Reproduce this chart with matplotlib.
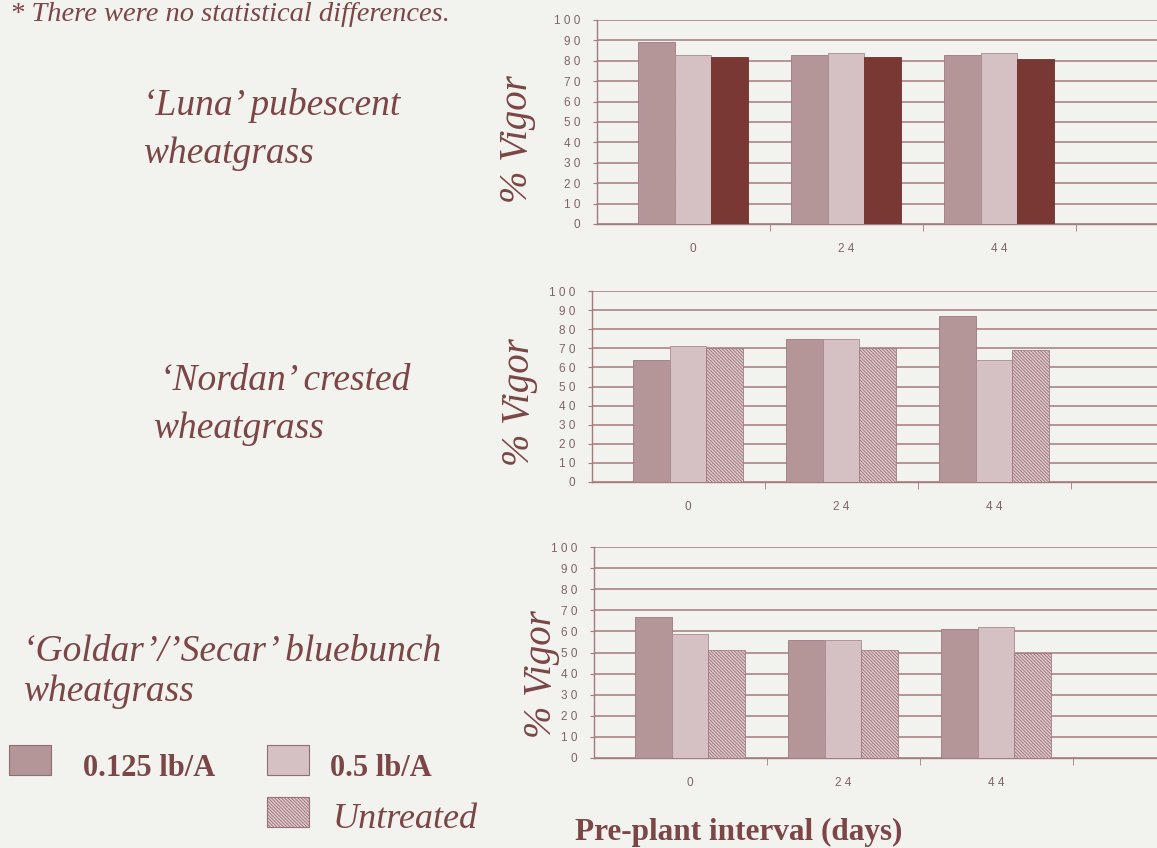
import matplotlib.pyplot as plt
from matplotlib.patches import Rectangle
import numpy as np

intervals = ["0", "24", "44"]
series = ["0.125 lb/A", "0.5 lb/A", "Untreated"]

luna = {"0.125 lb/A": [89, 83, 83], "0.5 lb/A": [83, 84, 84], "Untreated": [82, 82, 81]}
nordan = {"0.125 lb/A": [64, 75, 87], "0.5 lb/A": [71, 75, 64], "Untreated": [70, 70, 69]}
goldar = {"0.125 lb/A": [67, 56, 61], "0.5 lb/A": [59, 56, 62], "Untreated": [51, 51, 50]}

yticks = list(range(0, 101, 10))

W, H = 1157, 848
BG = "#f2f2ef"
TXT = "#7b4645"
GRID = "#a57b7c"
TICK = "#806465"
STEP = 153.0  # px per interval group

plt.rcParams["hatch.linewidth"] = 0.6

fig = plt.figure(figsize=(W / 100, H / 100), dpi=100, facecolor=BG)


def spaced(s):
    return " ".join(s)


def panel(left, y0, y100, c0, data, solid_untreated=False):
    ax = fig.add_axes([left / W, 1 - y0 / H, (W - left) / W, (y0 - y100) / H])
    ax.set_facecolor("none")
    x = np.arange(len(intervals))
    bw = 0.24
    styles = {
        "0.125 lb/A": dict(color="#b49698", edgecolor="#9d7a7d", lw=0.6),
        "0.5 lb/A": dict(color="#d5c1c3", edgecolor="#a98a8c", lw=0.6),
        "Untreated": dict(color="#dcc9cb", edgecolor="#9c7074", hatch="\\" * 10, lw=0.5),
    }
    if solid_untreated:
        styles["Untreated"] = dict(color="#7a3834", edgecolor="#6e302d", lw=0.6)
    for i, s in enumerate(series):
        ax.bar(x + (i - 1) * bw, data[s], bw, zorder=3, **styles[s])
    ax.set_ylim(0, 100)
    ax.set_xlim(-(c0 - left) / STEP, (W - c0) / STEP)
    ax.set_yticks(yticks)
    ax.set_yticklabels([spaced(str(v)) for v in yticks], fontsize=8.5,
                       family="Liberation Sans", color=TICK)
    ax.set_xticks(x)
    ax.set_xticklabels([spaced(v) for v in intervals], fontsize=8.5,
                       family="Liberation Sans", color=TICK)
    ax.tick_params(axis="x", length=0, pad=14)
    ax.set_xticks([0.5, 1.5, 2.5], minor=True)
    ax.tick_params(axis="x", which="minor", length=5, color=GRID, direction="out")
    ax.tick_params(axis="y", length=3, color=GRID, pad=9)
    ax.grid(axis="y", color=GRID, lw=1.1, zorder=0)
    for sp in ["top", "right"]:
        ax.spines[sp].set_visible(False)
    for sp in ["left", "bottom"]:
        ax.spines[sp].set_color(GRID)
        ax.spines[sp].set_linewidth(1.0)
    return ax


panel(597, 224, 20, 693, luna, solid_untreated=True)
panel(592, 482, 291, 688, nordan)
panel(594, 758, 547, 690, goldar)


def ftext(x, y, s, **kw):
    fig.text(x / W, 1 - y / H, s, color=TXT, family="Liberation Serif", **kw)


# rotated y labels
for xc, yc in [(518, 139), (520, 402), (542, 674)]:
    ftext(xc, yc, "% Vigor", fontsize=28, style="italic", rotation=90,
          ha="center", va="center")

ftext(10, 21, "* There were no statistical differences.", fontsize=20.5, style="italic",
      va="baseline")
ftext(143, 115, "‘Luna’ pubescent", fontsize=27, style="italic", va="baseline")
ftext(143, 163, "wheatgrass", fontsize=27, style="italic", va="baseline")
ftext(160, 390, "‘Nordan’ crested", fontsize=27, style="italic", va="baseline")
ftext(153, 438, "wheatgrass", fontsize=27, style="italic", va="baseline")
ftext(23, 661, "‘Goldar’/’Secar’ bluebunch", fontsize=27, style="italic", va="baseline")
ftext(23, 701, "wheatgrass", fontsize=27, style="italic", va="baseline")

ftext(575, 840, "Pre-plant interval (days)", fontsize=22.5, weight="bold", va="baseline")

# legend
leg = [
    (9, 745, "#b49698", "#8f6d70", None, 83, 776, "0.125 lb/A", "bold", "normal", 22),
    (267, 745, "#d5c1c3", "#8f6d70", None, 330, 776, "0.5 lb/A", "bold", "normal", 22),
    (267, 797, "#dcc9cb", "#9c7074", "\\" * 10, 333, 828, "Untreated", "normal", "italic", 26),
]
for bx, by, fc, ec, hatch, tx, ty, lab, wt, st, fs in leg:
    fig.add_artist(Rectangle((bx / W, 1 - (by + 30) / H), 42 / W, 30 / H,
                             transform=fig.transFigure, facecolor=fc, edgecolor=ec,
                             hatch=hatch, lw=0.8))
    ftext(tx, ty, lab, fontsize=fs, weight=wt, style=st, va="baseline")

fig.savefig("out.png", dpi=100, facecolor=BG)
